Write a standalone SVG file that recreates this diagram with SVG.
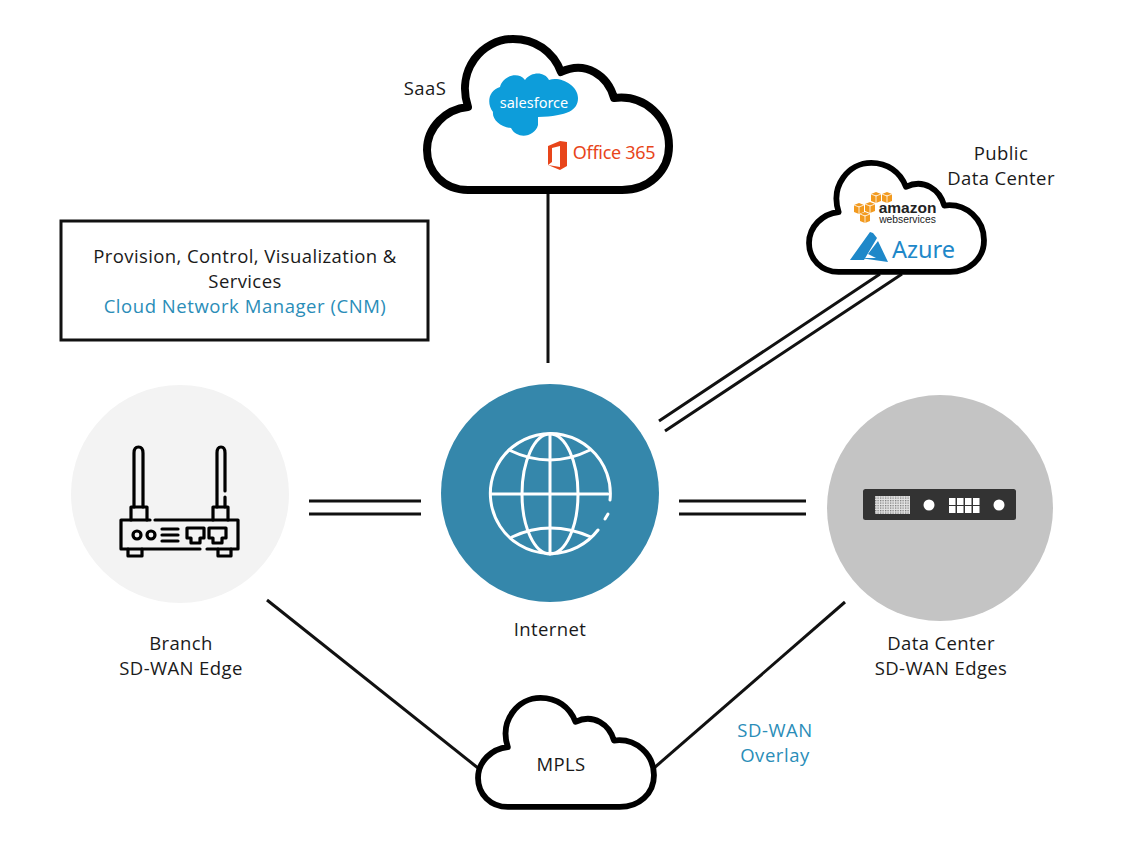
<svg xmlns="http://www.w3.org/2000/svg" xmlns:xlink="http://www.w3.org/1999/xlink" width="1121" height="842" viewBox="0 0 1121 842">
<style>
text{font-family:"Open Sans","Noto Sans","Liberation Sans",sans-serif;font-size:18.5px;letter-spacing:.4px;fill:#1a1a1a;text-anchor:middle}
.blue{fill:#2a8db8;letter-spacing:.55px}
.cn{fill:none;stroke:#111;stroke-width:3}
.cloud{fill:#fff;stroke:#000;stroke-linejoin:round}
.ic{fill:none;stroke:#000;stroke-width:3.2;stroke-linecap:round;stroke-linejoin:round}
.gl{fill:none;stroke:#fff;stroke-width:3;stroke-linecap:round}
.w{fill:#fff}
</style>
<defs>
<path id="cloud" d="M468,190 C444,190 427,172 427,150 C427,127 446,109 468,107 C456,70 482,39 513,39 C535,39 553,51 561,72 C586,60 608,76 614,98 C645,94 669,118 669,146 C669,172 648,190 622,190 Z"/>
<g id="cube"><path d="M0,2 L5,0 L10,2 L10,9 L5,11 L0,9Z" fill="#f29a1f"/><path d="M5,3 V11 M0,2 L5,4 L10,2" stroke="#fff" stroke-width=".8" fill="none"/></g>
<pattern id="hatch" width="2.500" height="2.500" patternUnits="userSpaceOnUse"><rect width="2.500" height="2.500" fill="#e4e4e4"/><rect width="1.250" height="1.250" fill="#777"/></pattern>
</defs>
<rect width="1121" height="842" fill="#fff"/>
<g id="connectors">
<path class="cn" d="M548,190 V363"/>
<path class="cn" d="M659,421 L880,274 M665,431 L902,274"/>
<path class="cn" d="M309,501 H421 M309,514 H421"/>
<path class="cn" d="M679,501 H806 M679,514 H806"/>
<path class="cn" d="M267,600 L478,768"/>
<path class="cn" d="M845,602 L654,768"/>
</g>
<g id="cnm">
<rect x="61" y="221" width="367" height="119" fill="#fff" stroke="#111" stroke-width="3"/>
<text x="245" y="263">Provision, Control, Visualization &amp;</text>
<text x="245" y="288">Services</text>
<text x="245" y="313" class="blue">Cloud Network Manager (CNM)</text>
</g>
<g id="saas">
<use xlink:href="#cloud" href="#cloud" class="cloud" stroke-width="8"/>
<text x="425" y="95">SaaS</text>
<path fill="#0d9dda" d="M500,87 C503,76 518,71 525,80 C532,71 545,72 549,80 C560,76 578,85 578,98 C578,110 568,116 538,117 V125 C535,137 517,140 511,128 C500,127 492,119 493,112 C486,103 489,90 500,87Z"/>
<text x="534" y="108" style="fill:#fff;font-size:14.5px;letter-spacing:0;font-family:'Noto Sans',sans-serif">salesforce</text>
<path fill="#e8451a" d="M548,146 L560,141 L567,142 V166 L560,170 L548,165 L560,167 V146 L552,148 V162 L548,165Z"/>
<text x="614" y="159" style="fill:#e8451a;font-size:18px;letter-spacing:-.3px;font-family:'Noto Sans',sans-serif">Office 365</text>
</g>
<g id="public-dc">
<use xlink:href="#cloud" href="#cloud" class="cloud" stroke-width="8" transform="translate(500.300,134.800) scale(.723,.722)"/>
<text x="1001" y="160">Public</text>
<text x="1001" y="185">Data Center</text>
<use xlink:href="#cube" href="#cube" x="871" y="192"/><use xlink:href="#cube" href="#cube" x="882" y="192"/><use xlink:href="#cube" href="#cube" x="854" y="203"/><use xlink:href="#cube" href="#cube" x="865" y="202"/><use xlink:href="#cube" href="#cube" x="860" y="212"/>
<text x="907.500" y="213" style="fill:#222;font-size:15.500px;letter-spacing:0;font-weight:700;font-family:'Liberation Sans',sans-serif">amazon</text>
<text x="907.500" y="223" style="fill:#222;font-size:10.300px;letter-spacing:0;font-family:'Liberation Sans',sans-serif">webservices</text>
<path fill="#1e88c9" d="M870,232 L850,260 H864 L877,238 L873,233 Z M878,241 L868,254 L876,258 H860 L888,262 Z"/>
<text x="923.500" y="258" style="fill:#1e88c9;font-size:23.500px;letter-spacing:0;font-family:'Noto Sans',sans-serif">Azure</text>
</g>
<g id="branch">
<circle cx="180" cy="494" r="109" fill="#f3f3f3"/>
<path class="ic" d="M134,507 V453 Q134,447 138.500,447 Q143,447 143,453 V507 M217,507 V453 Q217,447 221,447 Q225,447 225,453 V491 M225,497 V507 M217,497 V507"/>
<path class="ic" d="M131,520 V507 H147 V520 M213,520 V507 H228 V520"/>
<path class="ic" d="M150,520 H121 V549 H200 M207,549 H238 V520 H155"/>
<path class="ic" d="M128,549 V556 H142 V549 M218,549 V556 H231 V549"/>
<circle class="ic" cx="137" cy="535" r="4"/><circle class="ic" cx="151" cy="535" r="4"/>
<path class="ic" d="M162,529 H178 M162,535 H178 M162,541 H178"/>
<path class="ic" d="M187,528 H204 V538 H200 V543 H191 V538 H187 Z M209,528 H226 V538 H222 V543 H213 V538 H209 Z"/>
<text x="181" y="650">Branch</text>
<text x="181" y="675">SD-WAN Edge</text>
</g>
<g id="internet">
<circle cx="550" cy="493" r="109" fill="#3587ab"/>
<path class="gl" d="M610,500 A60,60 0 1 0 598,530"/>
<path class="gl" d="M608,514 L605,519"/>
<path class="gl" d="M550,434 V554 M491,494 H608"/>
<ellipse class="gl" cx="550" cy="494" rx="28" ry="60"/>
<path class="gl" d="M509,450 Q550,470 590,450 M512,537 Q550,519 591,537"/>
<text x="550" y="636">Internet</text>
</g>
<g id="datacenter">
<circle cx="940" cy="508" r="113" fill="#c4c4c4"/>
<rect x="863" y="489" width="153" height="31" rx="2.500" fill="#333"/>
<rect x="875" y="496" width="35" height="18" fill="url(#hatch)"/>
<circle class="w" cx="929" cy="505" r="5.500"/><circle class="w" cx="999" cy="505" r="5.500"/>
<g class="w"><rect x="949" y="498" width="6.500" height="7"/><rect x="957" y="498" width="6.500" height="7"/><rect x="965" y="498" width="6.500" height="7"/><rect x="973" y="498" width="6.500" height="7"/><rect x="949" y="506" width="6.500" height="7"/><rect x="957" y="506" width="6.500" height="7"/><rect x="965" y="506" width="6.500" height="7"/><rect x="973" y="506" width="6.500" height="7"/></g>
<text x="941" y="650">Data Center</text>
<text x="941" y="675">SD-WAN Edges</text>
</g>
<g id="mpls">
<use xlink:href="#cloud" href="#cloud" class="cloud" stroke-width="8" transform="translate(167.600,669.800) scale(.727,.722)"/>
<text x="561" y="771">MPLS</text>
</g>
<g id="overlay">
<text x="775" y="737" class="blue">SD-WAN</text>
<text x="775" y="762" class="blue">Overlay</text>
</g>
</svg>
